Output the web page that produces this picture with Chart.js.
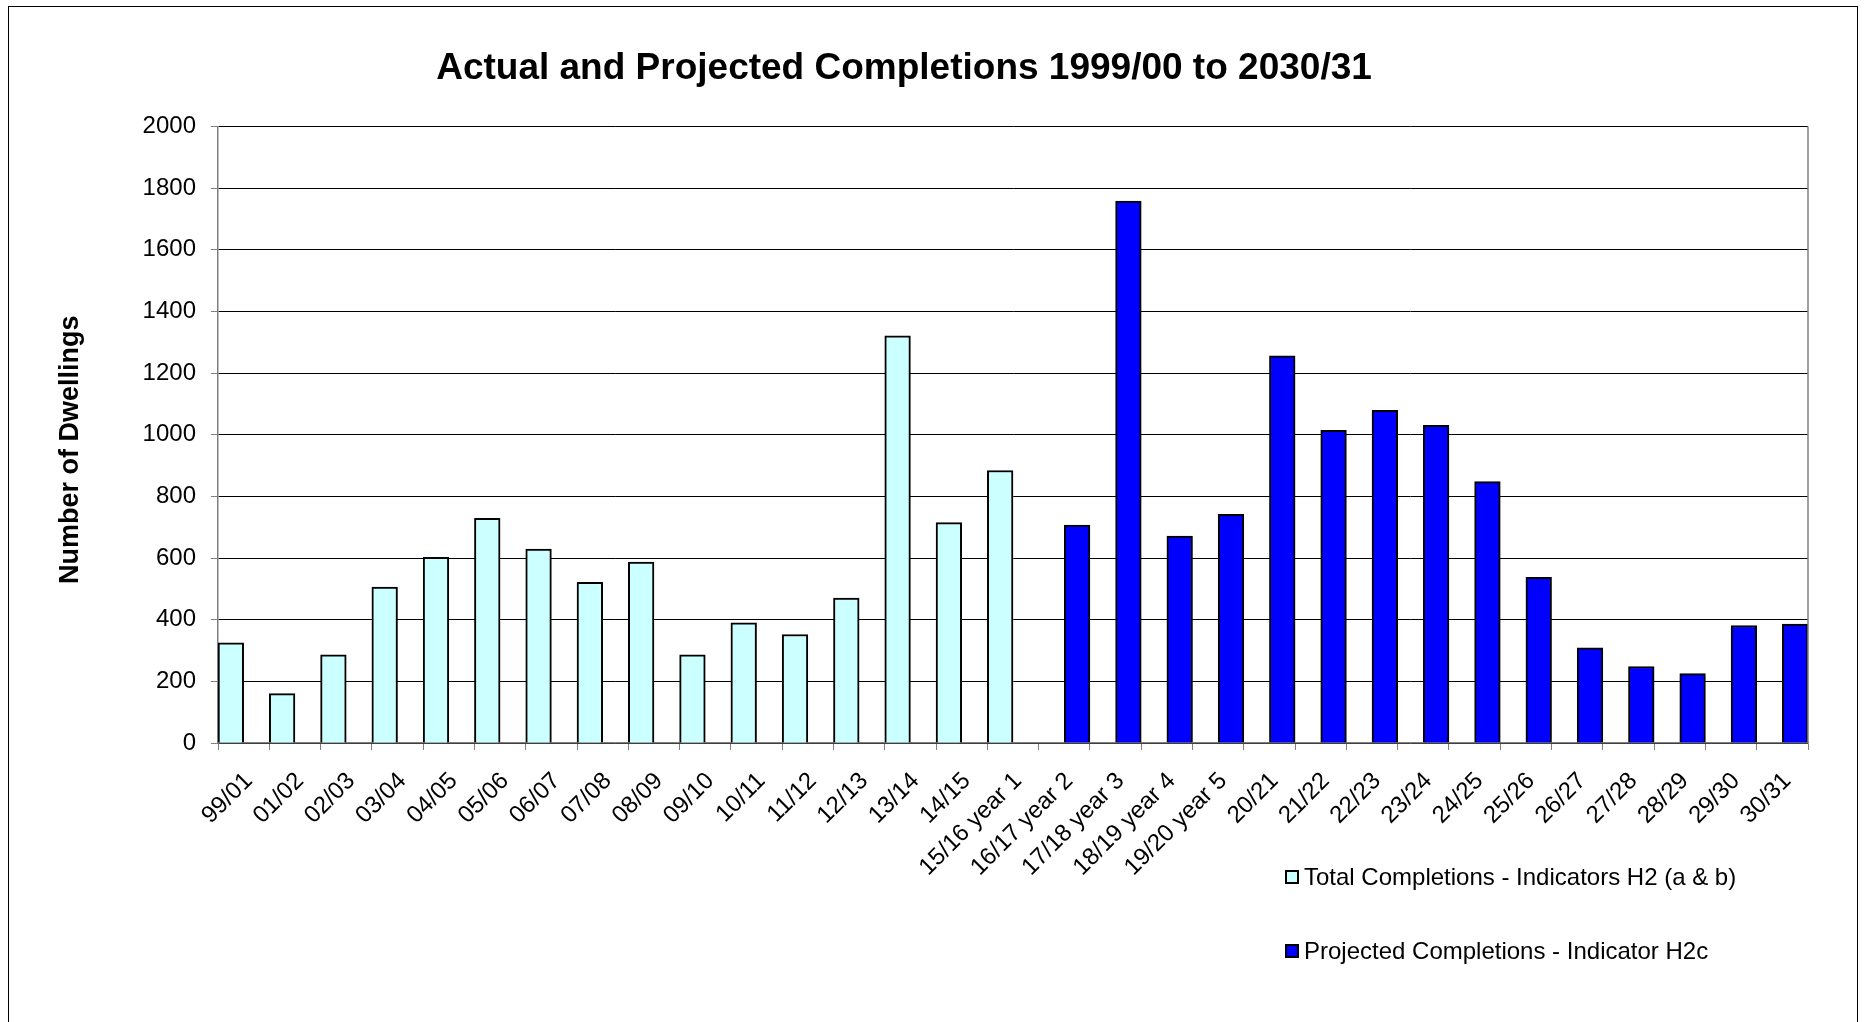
<!DOCTYPE html>
<html>
<head>
<meta charset="utf-8">
<title>Actual and Projected Completions</title>
<script src="https://cdn.jsdelivr.net/npm/chart.js@4.4.1/dist/chart.umd.min.js"></script>
<style>
    body { margin: 0; background: #fff; font-family: "Liberation Sans", Arial, sans-serif; }
    .wrap { position: relative; width: 1865px; height: 1022px; overflow: hidden; }
    .frame { position: absolute; left: 8px; top: 6px; width: 1848px; height: 1100px; border: 1px solid #000; }
    #chart { position: absolute; left: 0; top: 0; }
    .legend { position: absolute; left: 1285px; top: 860px; }
    .legendItem { display: flex; align-items: center; height: 34px; margin-bottom: 40px; font-size: 24px; color: #000; }
    .legendBox { width: 10px; height: 10px; border: 2px solid #000; margin-right: 5px; }
</style>
</head>
<body>
<div class="wrap">
    <div class="frame"></div>
    <canvas id="chart" width="1865" height="1022"></canvas>
    <div class="legend"></div>
</div>
<script>
//-----------------------------------------------------------------------------
// chart data
//-----------------------------------------------------------------------------
const years = [
    "99/01", "01/02", "02/03", "03/04", "04/05", "05/06", "06/07", "07/08",
    "08/09", "09/10", "10/11", "11/12", "12/13", "13/14", "14/15", "15/16 year 1",
    "16/17 year 2", "17/18 year 3", "18/19 year 4", "19/20 year 5",
    "20/21", "21/22", "22/23", "23/24", "24/25", "25/26", "26/27", "27/28",
    "28/29", "29/30", "30/31"
];
const totalCompletions = [
    325, 160, 286, 506, 602, 729, 629, 521,
    587, 286, 390, 352, 470, 1321, 715, 884,
    null, null, null, null,
    null, null, null, null, null, null, null, null,
    null, null, null
];
const projectedCompletions = [
    null, null, null, null, null, null, null, null,
    null, null, null, null, null, null, null, null,
    707, 1758, 671, 742,
    1256, 1014, 1079, 1030, 848, 537, 309, 248,
    225, 381, 386
];
const seriesNames = ["Total Completions - Indicators H2 (a & b)", "Projected Completions - Indicator H2c"];
const seriesColours = ["#ccffff", "#0000ff"];
const yTicks = { min: 0, max: 2000, step: 200 };

const fontFamily = '"Liberation Sans", Arial, sans-serif';

//-----------------------------------------------------------------------------
// grey line down the right side of the plot area
//-----------------------------------------------------------------------------
const rightEdge = {
    id: "rightEdge",
    afterDraw(chart) {
        const { ctx, chartArea } = chart;
        ctx.save();
        ctx.strokeStyle = "#808080";
        ctx.lineWidth = 1.5;
        ctx.beginPath();
        ctx.moveTo(chartArea.right, chartArea.top);
        ctx.lineTo(chartArea.right, chartArea.bottom);
        ctx.stroke();
        ctx.restore();
    }
};

const ctx = document.getElementById("chart").getContext("2d");
const chart = new Chart(ctx, {
    type: "bar",
    data: {
        labels: years,
        datasets: [
            {
                label: seriesNames[0],
                data: totalCompletions,
                backgroundColor: seriesColours[0],
                borderColor: "#000",
                borderWidth: 2
            },
            {
                label: seriesNames[1],
                data: projectedCompletions,
                backgroundColor: seriesColours[1],
                borderColor: "#000",
                borderWidth: 2
            }
        ]
    },
    options: {
        responsive: false,
        animation: false,
        devicePixelRatio: 1,
        categoryPercentage: 1.0,
        barPercentage: 1.0,
        layout: {
            padding: { left: 0, right: 57, top: 0, bottom: 79 }
        },
        plugins: {
            legend: { display: false },
            tooltip: { enabled: false },
            title: {
                display: true,
                text: "Actual and Projected Completions 1999/00 to 2030/31",
                color: "#000",
                font: { family: fontFamily, size: 37, weight: "bold" },
                padding: { top: 47, bottom: 35 }
            }
        },
        scales: {
            x: {
                afterFit: scale => { scale.height = 200; },
                grid: {
                    drawOnChartArea: false,
                    drawTicks: true,
                    tickLength: 7,
                    tickColor: "#808080"
                },
                border: { color: "#808080", width: 1.5 },
                ticks: {
                    autoSkip: false,
                    minRotation: 45,
                    maxRotation: 45,
                    padding: 17,
                    labelOffset: 5,
                    color: "#000",
                    font: { family: fontFamily, size: 24 }
                }
            },
            y: {
                min: yTicks.min,
                max: yTicks.max,
                afterFit: scale => { scale.width = 218; },
                grid: {
                    color: "#000",
                    lineWidth: 1,
                    tickLength: 7,
                    tickColor: "#808080"
                },
                border: { color: "#808080", width: 1.5 },
                ticks: {
                    stepSize: yTicks.step,
                    padding: 15,
                    color: "#000",
                    font: { family: fontFamily, size: 24 },
                    callback: value => `${value}`
                },
                title: {
                    display: true,
                    // trailing spaces nudge the title a little below centre, like the original
                    text: "Number of Dwellings    ",
                    color: "#000",
                    font: { family: fontFamily, size: 27, weight: "bold" },
                    padding: { top: 54, bottom: 0 }
                }
            }
        }
    },
    plugins: [rightEdge]
});

//-----------------------------------------------------------------------------
// legend stacked down the bottom right, built from the datasets
//-----------------------------------------------------------------------------
const legend = document.querySelector(".legend");
chart.data.datasets.forEach(ds => {
    legend.insertAdjacentHTML("beforeend",
        `<div class="legendItem">
            <div class="legendBox" style="background:${ds.backgroundColor}"></div>
            <span>${ds.label}</span>
        </div>`);
});
</script>
</body>
</html>
